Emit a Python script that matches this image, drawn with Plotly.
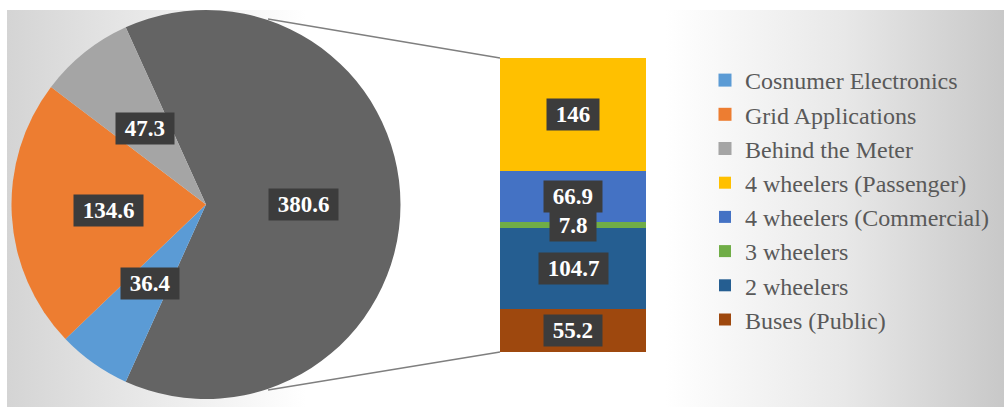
import math
import plotly.graph_objects as go

# ---------------- data ----------------
pie_labels = ["Other (EV)", "Cosnumer Electronics", "Grid Applications", "Behind the Meter"]
pie_values = [380.6, 36.4, 134.6, 47.3]
pie_colors = ["#646464", "#5B9BD5", "#ED7D31", "#A5A5A5"]

bar_labels = ["Buses (Public)", "2 wheelers", "3 wheelers", "4 wheelers (Commercial)", "4 wheelers (Passenger)"]
bar_values = [55.2, 104.7, 7.8, 66.9, 146]
bar_colors = ["#9E480E", "#255E91", "#70AD47", "#4472C4", "#FFC000"]

legend_order = ["Cosnumer Electronics", "Grid Applications", "Behind the Meter",
                "4 wheelers (Passenger)", "4 wheelers (Commercial)", "3 wheelers",
                "2 wheelers", "Buses (Public)"]

# ---------------- layout geometry (pixels) ----------------
W, H = 1004, 407
pie_left, pie_right, pie_top, pie_bottom = 11, 401, 10, 399
bar_left, bar_right, bar_top, bar_bottom = 500, 646, 58, 352
frame_left, frame_top = 7, 10
SERIF = "Liberation Serif"

def px_x(v):
    return v / W

def px_y(v):
    return 1 - v / H

fig = go.Figure()

# background panel with horizontal gradient
fig.add_trace(go.Scatter(
    x=[0, 1, 1, 0, 0], y=[0, 0, 1, 1, 0], mode="lines", fill="toself",
    line=dict(width=0),
    fillgradient=dict(type="horizontal",
                      colorscale=[[0, "#d4d4d4"], [0.12, "#e6e6e6"], [0.3, "#ffffff"],
                                  [0.66, "#ffffff"], [0.84, "#e8e8e8"], [1, "#c8c8c8"]]),
    hoverinfo="skip", showlegend=False, xaxis="x", yaxis="y"))

# pie
total_other = pie_values[0]
total = sum(pie_values)
rotation = 90 - (total_other / total) * 360 / 2
fig.add_trace(go.Pie(
    labels=pie_labels, values=pie_values, sort=False, direction="clockwise",
    rotation=rotation, textinfo="none", showlegend=False,
    marker=dict(colors=pie_colors, line=dict(width=0)),
    domain=dict(x=[px_x(pie_left), px_x(pie_right)], y=[px_y(pie_bottom), px_y(pie_top)]),
    hoverinfo="label+value"))

# legend entries for pie categories
for lab, col in zip(pie_labels[1:], pie_colors[1:]):
    fig.add_trace(go.Scatter(
        x=[None], y=[None], mode="markers", name=lab,
        marker=dict(symbol="square", size=13, color=col, line=dict(width=0)),
        legendrank=legend_order.index(lab) + 1, xaxis="x", yaxis="y"))

# stacked bar
for lab, val, col in zip(bar_labels, bar_values, bar_colors):
    fig.add_trace(go.Bar(
        x=[0], y=[val], name=lab, width=1, marker=dict(color=col, line=dict(width=0)),
        legendrank=legend_order.index(lab) + 1, xaxis="x2", yaxis="y2"))

# ---------------- data labels ----------------
label_font = dict(family=SERIF, size=23, color="white")
nb = "\u00a0"
annotations = []

cx = (pie_left + pie_right) / 2
cy = (pie_top + pie_bottom) / 2
R = min(pie_right - pie_left, pie_bottom - pie_top) / 2
start = rotation
for val in pie_values:
    span = val / total * 360
    mid = math.radians(start + span / 2)
    lx = cx + 0.5 * R * math.sin(mid)
    ly = cy - 0.5 * R * math.cos(mid)
    annotations.append(dict(
        x=px_x(lx), y=px_y(ly), xref="paper", yref="paper", showarrow=False,
        xanchor="center", yanchor="middle",
        text="<b>" + nb + f"{val:g}" + nb + "</b>", font=label_font,
        bgcolor="#3c3c3c", borderpad=3))
    start += span

bar_total = sum(bar_values)
cum = 0
for val in bar_values:
    annotations.append(dict(
        x=0, y=cum + val / 2, xref="x2", yref="y2", showarrow=False,
        xanchor="center", yanchor="middle",
        text="<b>" + nb + f"{val:g}" + nb + "</b>", font=label_font,
        bgcolor="#3c3c3c", borderpad=3))
    cum += val

# connector lines from pie to bar
shapes = [
    dict(type="line", xref="paper", yref="paper",
         x0=px_x(268), y0=px_y(19), x1=px_x(bar_left), y1=px_y(bar_top),
         line=dict(color="#7f7f7f", width=1.3)),
    dict(type="line", xref="paper", yref="paper",
         x0=px_x(268), y0=px_y(390), x1=px_x(bar_left), y1=px_y(bar_bottom),
         line=dict(color="#7f7f7f", width=1.3)),
]

fig.update_layout(
    width=W, height=H, margin=dict(l=0, r=0, t=0, b=0),
    font=dict(family=SERIF),
    paper_bgcolor="white", plot_bgcolor="rgba(0,0,0,0)",
    barmode="stack", bargap=0,
    xaxis=dict(domain=[px_x(frame_left), 1], range=[0, 1], visible=False, fixedrange=True),
    yaxis=dict(domain=[0, px_y(frame_top)], range=[0, 1], visible=False, fixedrange=True),
    xaxis2=dict(domain=[px_x(bar_left), px_x(bar_right)], range=[-0.5, 0.5], visible=False,
                anchor="y2"),
    yaxis2=dict(domain=[px_y(bar_bottom), px_y(bar_top)], range=[0, bar_total], visible=False,
                anchor="x2"),
    legend=dict(x=px_x(705), xanchor="left", y=px_y(58), yanchor="top",
                font=dict(family=SERIF, size=24, color="#595959"),
                bgcolor="rgba(0,0,0,0)", tracegroupgap=0, traceorder="normal"),
    annotations=annotations, shapes=shapes, showlegend=True,
)

fig.write_html("out.html")
